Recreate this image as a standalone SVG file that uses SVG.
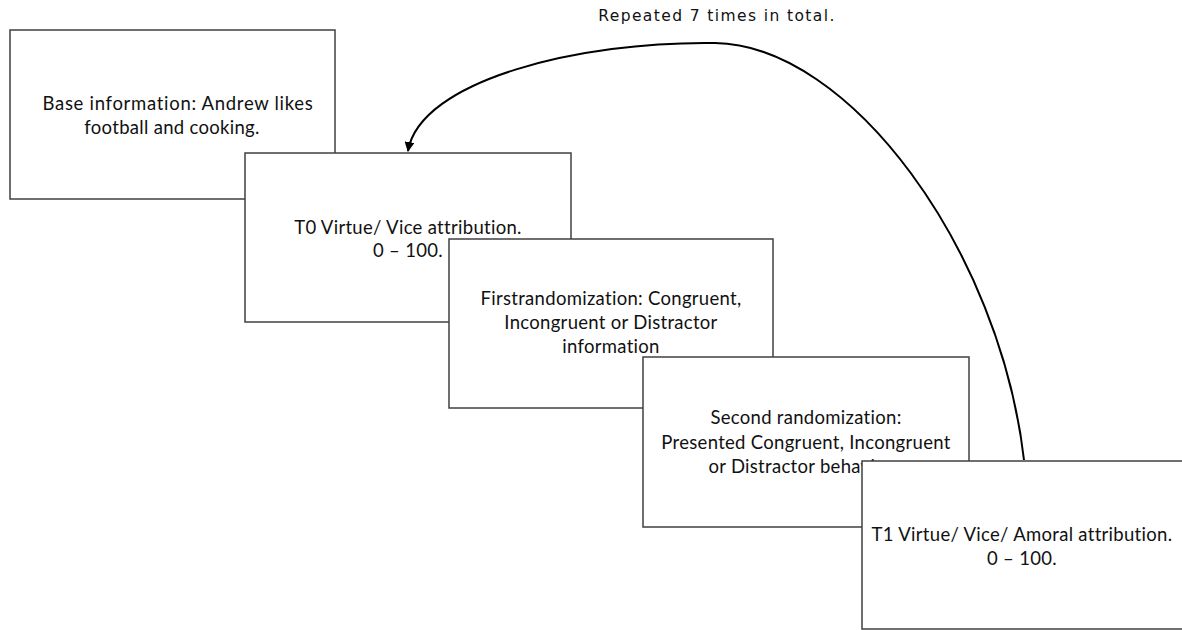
<svg xmlns="http://www.w3.org/2000/svg" width="1182" height="630" viewBox="0 0 1182 630">
<style>
.box{fill:#fff;stroke:#404040;stroke-width:1.5}
.t{font-family:Lato,"Liberation Sans",sans-serif;font-size:18.5px;letter-spacing:0.3px;fill:#111;text-anchor:middle}
.title{font-family:"DejaVu Sans",sans-serif;font-size:15.5px;letter-spacing:1.4px;fill:#111;text-anchor:middle}
.conn{fill:none;stroke:#000;stroke-width:2}
</style>
<defs>
<marker id="arr" viewBox="0 0 10 10" refX="9" refY="5" markerWidth="5" markerHeight="5" orient="auto" markerUnits="strokeWidth">
<path d="M0,0 L10,5 L0,10 z" fill="#000"/>
</marker>
</defs>
<rect width="1182" height="630" fill="#fff"/>
<text class="title" x="717" y="21">Repeated 7 times in total.</text>
<g id="connectors">
<path class="conn" d="M1024,460 C1000,250 850,45 715,43 C580,41 420,80 408,151" marker-end="url(#arr)"/>
</g>
<g id="base">
<rect class="box" x="10" y="30" width="325" height="169"/>
<text class="t" x="178" y="110" style="letter-spacing:0.7px">Base information: Andrew likes</text>
<text class="t" x="172" y="134">football and cooking.</text>
</g>
<g id="t0">
<rect class="box" x="245" y="153" width="326" height="169"/>
<text class="t" x="408" y="234">T0 Virtue/ Vice attribution.</text>
<text class="t" x="408" y="257">0 – 100.</text>
</g>
<g id="first">
<rect class="box" x="449" y="239" width="324" height="169"/>
<text class="t" x="611" y="305">Firstrandomization: Congruent,</text>
<text class="t" x="611" y="329">Incongruent or Distractor</text>
<text class="t" x="611" y="353">information</text>
</g>
<g id="second">
<rect class="box" x="643" y="357" width="326" height="170"/>
<text class="t" x="806" y="424">Second randomization:</text>
<text class="t" x="806" y="449">Presented Congruent, Incongruent</text>
<text class="t" x="806" y="473">or Distractor behaviour</text>
</g>
<g id="t1">
<rect class="box" x="862" y="461" width="330" height="168"/>
<text class="t" x="1022" y="541">T1 Virtue/ Vice/ Amoral attribution.</text>
<text class="t" x="1022" y="565">0 – 100.</text>
</g>
</svg>
